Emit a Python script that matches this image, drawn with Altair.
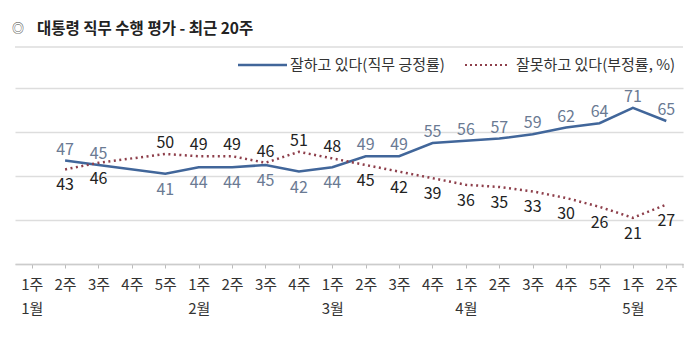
import altair as alt
import pandas as pd

FONT = "Noto Sans CJK KR"

# x categories (20 weeks)
categories = [
    "1월 1주", "1월 2주", "1월 3주", "1월 4주", "1월 5주",
    "2월 1주", "2월 2주", "2월 3주", "2월 4주",
    "3월 1주", "3월 2주", "3월 3주", "3월 4주",
    "4월 1주", "4월 2주", "4월 3주", "4월 4주", "4월 5주",
    "5월 1주", "5월 2주",
]
# weeks with survey results
survey_weeks = [
    "1월 2주", "1월 3주", "1월 5주",
    "2월 1주", "2월 2주", "2월 3주", "2월 4주",
    "3월 1주", "3월 2주", "3월 3주", "3월 4주",
    "4월 1주", "4월 2주", "4월 3주", "4월 4주", "4월 5주",
    "5월 1주", "5월 2주",
]
approve = [47, 45, 41, 44, 44, 45, 42, 44, 49, 49, 55, 56, 57, 59, 62, 64, 71, 65]
disapprove = [43, 46, 50, 49, 49, 46, 51, 48, 45, 42, 39, 36, 35, 33, 30, 26, 21, 27]

title_text = "대통령 직무 수행 평가 - 최근 20주"
legend_pos = "잘하고 있다(직무 긍정률)"
legend_neg = "잘못하고 있다(부정률, %)"

df = pd.DataFrame({"week": survey_weeks, "approve": approve, "disapprove": disapprove})
# label side: the higher series gets its label above; where the lines just
# crossed by a single point, keep the previous week's side
above = []
for i, (a, d) in enumerate(zip(approve, disapprove)):
    side = a > d
    if i > 0 and abs(a - d) <= 1 and (approve[i - 1] > disapprove[i - 1]) != side:
        side = approve[i - 1] > disapprove[i - 1]
    above.append(side)
df["approve_above"] = above

BLUE = "#41669a"
RED = "#8e3f4b"
POS_LBL = "#6a7a93"
NEG_LBL = "#222222"

xenc = alt.X(
    "week:N",
    scale=alt.Scale(domain=categories, paddingInner=0, paddingOuter=0),
    sort=categories,
    axis=alt.Axis(
        title=None,
        labelAngle=0,
        bandPosition=0,
        labelExpr="[split(datum.value, ' ')[1], split(datum.value, ' ')[1] == '1주' ? split(datum.value, ' ')[0] : '']",
        labelFont=FONT,
        labelFontSize=15,
        labelColor="#333333",
        labelPadding=9,
        labelLineHeight=24,
        labelBaseline="top",
        tickColor="#bbbbbb",
        tickSize=4,
        domainColor="#cccccc",
        domainWidth=1.5,
        grid=False,
    ),
)
yscale = alt.Scale(domain=[0, 80])
yaxis = alt.Axis(
    title=None, labels=False, ticks=False, domain=False,
    values=[0, 20, 40, 60, 80], grid=True, gridColor="#dddddd", gridWidth=1.5,
)

base = alt.Chart(df)
xs = alt.X("week:N", sort=categories)

pos_line = base.mark_line(color=BLUE, strokeWidth=2.5).encode(
    x=xenc, y=alt.Y("approve:Q", scale=yscale, axis=yaxis)
)
neg_line = base.mark_line(color=RED, strokeWidth=2.5, strokeDash=[2, 3.5]).encode(
    x=xs, y=alt.Y("disapprove:Q", scale=yscale)
)

UP = dict(font=FONT, fontSize=16, baseline="bottom", dy=-3)
DN = dict(font=FONT, fontSize=16, baseline="top", dy=8)

pos_up = base.transform_filter("datum.approve_above").mark_text(color=POS_LBL, **UP).encode(
    x=xs, y=alt.Y("approve:Q", scale=yscale), text="approve:Q")
pos_dn = base.transform_filter("!datum.approve_above").mark_text(color=POS_LBL, **DN).encode(
    x=xs, y=alt.Y("approve:Q", scale=yscale), text="approve:Q")
neg_up = base.transform_filter("!datum.approve_above").mark_text(color=NEG_LBL, **UP).encode(
    x=xs, y=alt.Y("disapprove:Q", scale=yscale), text="disapprove:Q")
neg_dn = base.transform_filter("datum.approve_above").mark_text(color=NEG_LBL, **DN).encode(
    x=xs, y=alt.Y("disapprove:Q", scale=yscale), text="disapprove:Q")

one = alt.Data(values=[{}])

end_tick = alt.Chart(one).mark_rule(color="#bbbbbb").encode(
    x=alt.value(668), y=alt.value(176), y2=alt.value(180)
)
title_sym = alt.Chart(one).mark_text(
    text="◎", font=FONT, fontSize=12, color="#444444", align="center", baseline="middle"
).encode(x=alt.value(3), y=alt.value(-59))
title_mark = alt.Chart(one).mark_text(
    text=title_text, font=FONT, fontSize=15.5, fontWeight="bold", color="#222222",
    align="left", baseline="middle"
).encode(x=alt.value(22), y=alt.value(-59))
title_rule = alt.Chart(one).mark_rule(color="#dddddd", strokeWidth=1.5).encode(
    x=alt.value(0), x2=alt.value(668), y=alt.value(-41)
)
leg_line1 = alt.Chart(one).mark_rule(color=BLUE, strokeWidth=2.5).encode(
    x=alt.value(223), x2=alt.value(272), y=alt.value(-23)
)
leg_text1 = alt.Chart(one).mark_text(
    text=legend_pos, font=FONT, fontSize=15, color="#333333", align="left", baseline="middle"
).encode(x=alt.value(275), y=alt.value(-23))
leg_line2 = alt.Chart(one).mark_rule(color=RED, strokeWidth=2, strokeDash=[2, 3]).encode(
    x=alt.value(450), x2=alt.value(493), y=alt.value(-23)
)
leg_text2 = alt.Chart(one).mark_text(
    text=legend_neg, font=FONT, fontSize=15, color="#333333", align="left", baseline="middle"
).encode(x=alt.value(501), y=alt.value(-23))

chart = alt.layer(
    pos_line, neg_line, pos_up, pos_dn, neg_up, neg_dn,
    end_tick, title_sym, title_mark, title_rule, leg_line1, leg_text1, leg_line2, leg_text2,
).properties(
    width=668, height=176,
    autosize=alt.AutoSizeParams(type="none"),
    padding={"left": 15, "top": 88, "right": 17, "bottom": 88},
    background="white",
).configure_view(stroke=None)

chart.save("out.html", embed_options={"renderer": "svg", "actions": False})
